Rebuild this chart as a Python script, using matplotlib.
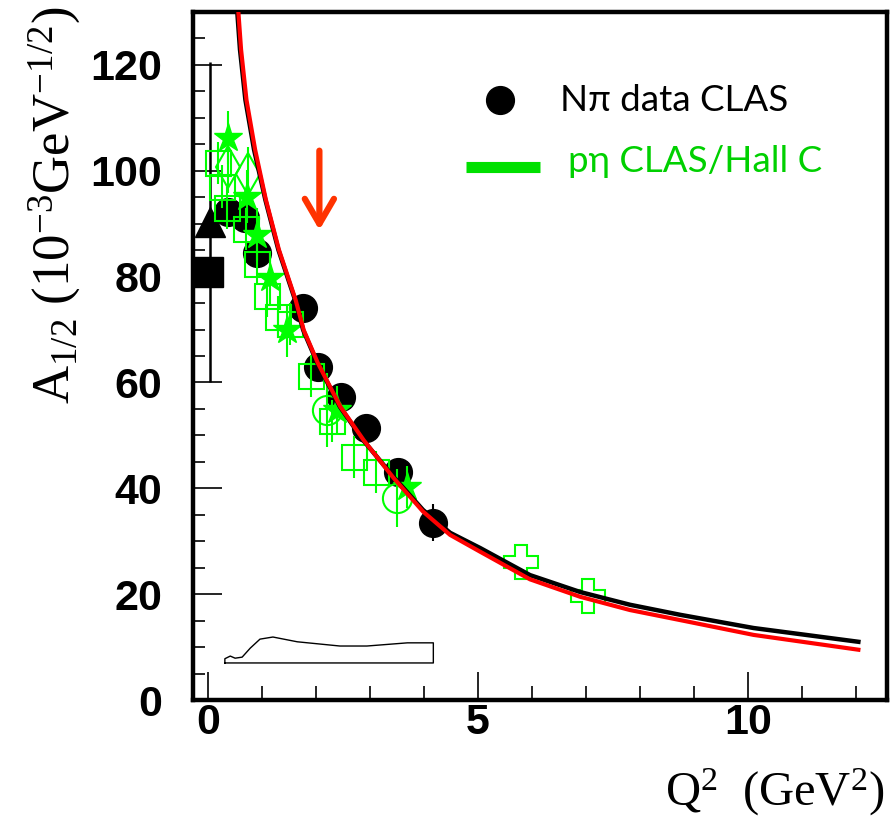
import matplotlib
matplotlib.use("Agg")
import matplotlib.pyplot as plt
from matplotlib.ticker import MultipleLocator

plt.rcParams["mathtext.fontset"] = "custom"
plt.rcParams["mathtext.rm"] = "Liberation Serif"
plt.rcParams["mathtext.it"] = "Liberation Serif:italic"

GREEN = "#00ff00"

# N pi data CLAS (black circles)
npi_q2 = [0.37, 0.69, 0.91, 1.76, 2.04, 2.46, 2.93, 3.52, 4.17]
npi_a = [92.2, 91.1, 84.5, 74.1, 62.9, 57.3, 51.4, 43.1, 33.5]
npi_err = [1.0, 1.0, 1.0, 1.0, 1.0, 1.0, 1.0, 1.5, 3.5]

# photon point(s) at Q2 = 0
rpp_q2 = [0.0]
rpp_a = [80.9]
tri_q2 = [0.04]
tri_a = [90.3]
tri_err_lo = [30.3]
tri_err_hi = [30.2]

# p eta data (green), several data sets
star_q2 = [0.37, 0.72, 0.91, 1.15, 1.46, 2.39, 3.69]
star_a = [106.2, 95.1, 87.9, 79.8, 69.9, 54.8, 40.3]
star_err = [5.0, 5.0, 5.0, 5.0, 5.0, 4.5, 4.0]

sq_q2 = [0.19, 0.26, 0.35, 0.70, 0.91, 1.09, 1.30, 1.52, 1.91, 2.30, 2.70, 3.11]
sq_a = [101.5, 97.0, 93.0, 89.0, 82.4, 76.4, 72.4, 71.1, 61.2, 52.7, 45.9, 43.1]
sq_err = [4.0, 4.0, 4.0, 4.0, 4.0, 4.0, 4.0, 4.0, 4.0, 4.0, 4.0, 4.0]

dia_q2 = [0.37, 0.74]
dia_a = [100.8, 99.4]
dia_err = [5.0, 5.0]

circ_q2 = [2.20, 3.50]
circ_a = [54.8, 38.2]
circ_err = [7.0, 5.5]

cross_q2 = [5.80, 7.04]
cross_a = [26.1, 19.7]

# model curves
blk_q2 = [0.54, 0.59, 0.69, 0.85, 1.06, 1.30, 1.61, 1.76, 2.02, 2.44, 2.87,
          3.43, 3.98, 4.48, 5.04, 5.96, 6.89, 7.81, 8.74, 10.1, 12.04]
blk_a = [130.0, 122.9, 113.4, 104.0, 94.5, 85.1, 75.6, 69.9, 63.7, 55.4, 49.1,
         42.2, 35.9, 31.6, 28.7, 23.6, 20.4, 18.0, 16.1, 13.6, 11.0]
red_q2 = [0.56, 0.61, 0.71, 0.87, 1.07, 1.31, 1.62, 1.77, 2.03, 2.45, 2.88,
          3.43, 3.98, 4.48, 5.04, 5.96, 6.89, 7.81, 8.74, 10.1, 12.04]
red_a = [130.0, 122.9, 113.4, 104.0, 94.5, 85.1, 75.6, 69.9, 63.7, 55.4, 49.1,
         42.0, 35.6, 31.2, 28.0, 22.8, 19.5, 17.0, 15.1, 12.3, 9.5]

# systematic band outline
band_q2 = [0.31, 0.31, 0.41, 0.50, 0.63, 0.78, 0.96, 1.20, 1.65, 2.44, 2.94,
           3.69, 4.17, 4.17, 0.31]
band_a = [7.0, 7.8, 8.3, 7.9, 8.1, 9.8, 11.5, 11.9, 11.0, 10.2, 10.2,
          10.8, 10.8, 7.0, 7.0]

fig = plt.figure(figsize=(8.9, 8.24), dpi=100)
ax = fig.add_axes([193 / 890, 1 - 700 / 824, 694 / 890, 688 / 824])

# band
ax.plot(band_q2, band_a, color="black", lw=1.0, zorder=2)

# black data
ax.errorbar(npi_q2, npi_a, yerr=npi_err, fmt="o", color="black", ms=20,
            elinewidth=1.5, capsize=0, zorder=3)
ax.errorbar(tri_q2, tri_a, yerr=[tri_err_lo, tri_err_hi], fmt="^", color="black",
            ms=21, elinewidth=1.8, capsize=0, zorder=3)
ax.plot(rpp_q2, rpp_a, "s", color="black", ms=21, zorder=3, clip_on=False)

# green data
ax.errorbar(sq_q2, sq_a, yerr=sq_err, fmt="s", mfc="none", mec=GREEN, ecolor=GREEN,
            ms=18, mew=1.5, elinewidth=1.5, capsize=0, zorder=4)
ax.errorbar(dia_q2, dia_a, yerr=dia_err, fmt="d", mfc="none", mec=GREEN, ecolor=GREEN,
            ms=21, mew=1.5, elinewidth=1.5, capsize=0, zorder=4)
ax.errorbar(circ_q2, circ_a, yerr=circ_err, fmt="o", mfc="none", mec=GREEN, ecolor=GREEN,
            ms=21, mew=1.5, elinewidth=1.5, capsize=0, zorder=4)
ax.errorbar(star_q2, star_a, yerr=star_err, fmt="*", color=GREEN, ms=21,
            elinewidth=1.5, capsize=0, zorder=4)
ax.plot(cross_q2, cross_a, "P", mfc="none", mec=GREEN, ms=25, mew=1.5, zorder=4)

# curves
ax.plot(blk_q2, blk_a, color="black", lw=3.2, zorder=5)
ax.plot(red_q2, red_a, color="#ff0000", lw=3.0, zorder=6)

# arrow
ax.annotate("", xy=(2.06, 88.8), xytext=(2.06, 103.8),
            arrowprops=dict(arrowstyle="->,head_length=0.6,head_width=0.35",
                            color="#ff3300", lw=4.5, mutation_scale=30,
                            shrinkA=0, shrinkB=0))

# legend drawn by hand
ax.plot([0.442], [0.872], "o", color="black", ms=20, transform=ax.transAxes)
ax.text(0.529, 0.856, "N\u03c0 data CLAS", transform=ax.transAxes,
        fontsize=26.5, family="Lato", color="black", va="baseline")
ax.plot([0.393, 0.500], [0.775, 0.775], color="#00e000", lw=8,
        transform=ax.transAxes, solid_capstyle="butt")
ax.text(0.540, 0.767, "p\u03b7 CLAS/Hall C", transform=ax.transAxes,
        fontsize=26.5, family="Lato", color="#00d000", va="baseline")

ax.set_xlim(-0.28, 12.57)
ax.set_ylim(0, 130)

ax.xaxis.set_major_locator(MultipleLocator(5))
ax.xaxis.set_minor_locator(MultipleLocator(1))
ax.yaxis.set_major_locator(MultipleLocator(20))
ax.yaxis.set_minor_locator(MultipleLocator(5))

ax.tick_params(axis="both", which="both", direction="in", top=False, right=False)
ax.tick_params(axis="x", which="major", length=20, width=1.2, pad=2)
ax.tick_params(axis="x", which="minor", length=10, width=1.2)
ax.tick_params(axis="y", which="major", length=21, width=1.2, pad=22)
ax.tick_params(axis="y", which="minor", length=8.5, width=1.2)
for lab in ax.get_xticklabels() + ax.get_yticklabels():
    lab.set_fontsize(31)
    lab.set_fontweight("bold")
    lab.set_family("Liberation Sans")

for sp in ax.spines.values():
    sp.set_linewidth(3.2)

fig.text(55 / 890, 1 - 205 / 824, r"$\mathrm{A_{1/2}\ (10^{-3}GeV^{-1/2})}$",
         rotation=90, ha="center", va="center", fontsize=38)
fig.text(885 / 890, 1 - 792 / 824, r"$\mathrm{Q^{2}\ \ (GeV^{2})}$",
         ha="right", va="center", fontsize=35)

fig.savefig("out.png", dpi=100)
